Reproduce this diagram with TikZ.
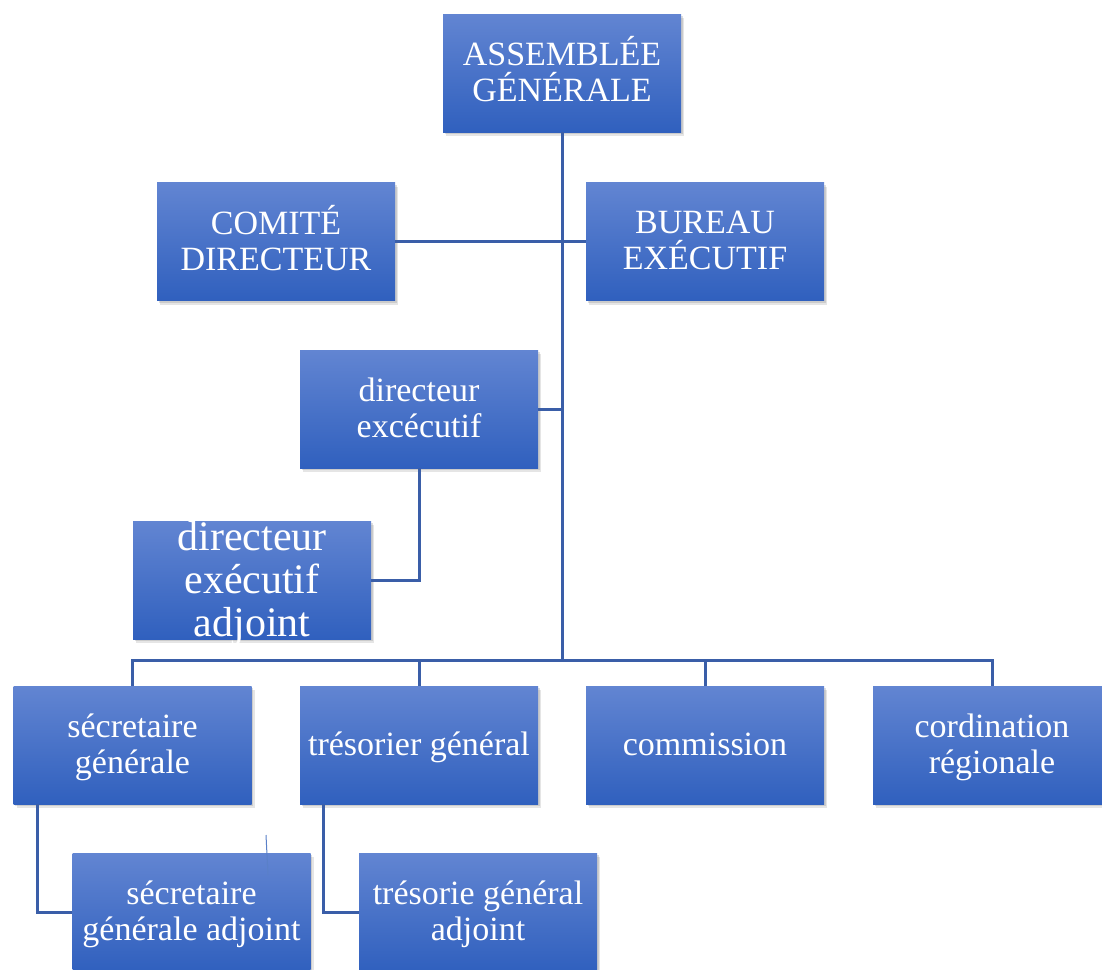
\documentclass[tikz,border=0pt]{standalone}
\usepackage{fontspec}
\setmainfont{Liberation Serif}
\usetikzlibrary{shadows}
\definecolor{boxtop}{RGB}{98,133,210}
\definecolor{boxbot}{RGB}{48,96,190}
\definecolor{linec}{RGB}{58,94,168}
\definecolor{strayc}{RGB}{90,128,200}
\newcommand{\sx}{\rule[-8pt]{0pt}{36pt}}
\newcommand{\sy}{\rule[-7.5pt]{0pt}{43pt}}
\setlength{\lineskiplimit}{-100pt}
\tikzset{
  orgbox/.style={rectangle, minimum width=238pt, minimum height=118pt, inner sep=0pt,
    top color=boxtop, bottom color=boxbot, draw=none, text=white, align=center,
    font=\fontsize{34}{36}\selectfont,
    drop shadow={shadow xshift=3pt, shadow yshift=-4pt, opacity=0.2},
    drop shadow={shadow xshift=1.5pt, shadow yshift=-2pt, opacity=0.25}},
  bigtext/.style={font=\fontsize{42}{43}\selectfont, inner ysep=-8pt},
  conn/.style={draw=linec, line width=3pt}
}
\begin{document}
\begin{tikzpicture}[x=1pt,y=-1pt]
\clip (0,0) rectangle (1102,969);
\fill[white] (0,0) rectangle (1102,969);
\coordinate (bus) at (562,660);
\node[orgbox] (AG) at (562,73) {\sx ASSEMBLÉE\\\sx GÉNÉRALE};
\node[orgbox] (CD) at (276,241.5) {\sx COMITÉ\\\sx DIRECTEUR};
\node[orgbox] (BE) at (705,241.5) {\sx BUREAU\\\sx EXÉCUTIF};
\node[orgbox] (DE) at (419,409) {\sx directeur\\\sx excécutif};
\node[orgbox,bigtext] (DEA) at (252,580) {\sy directeur\\\sy exécutif\\\sy adjoint};
\node[orgbox] (SG) at (132.5,745) {\sx sécretaire\\\sx générale};
\node[orgbox] (TG) at (419,745) {\sx trésorier général};
\node[orgbox] (CM) at (705,745) {\sx commission};
\node[orgbox] (CR) at (992,745) {\sx cordination\\\sx régionale};
\node[orgbox] (SGA) at (191.5,912) {\sx sécretaire\\\sx générale adjoint};
\node[orgbox] (TGA) at (478,912) {\sx trésorie général\\\sx adjoint};
% lines
\draw[conn] (AG.south) -- (bus);
\draw[conn] (CD.east) -- (BE.west);
\draw[conn] (DE.east) -- (DE.east -| bus);
\draw[conn] (DE.south) |- (DEA.east);
\draw[conn] (SG.north) |- (bus) -| (CR.north);
\draw[conn] (TG.north) -- (TG.north |- bus);
\draw[conn] (CM.north) -- (CM.north |- bus);
\coordinate (sgdrop) at ([xshift=24pt]SG.south west);
\coordinate (tgdrop) at ([xshift=24pt]TG.south west);
\draw[conn] (sgdrop) |- (SGA.west);
\draw[conn] (tgdrop) |- (TGA.west);
\coordinate (s1) at (266,835);
\coordinate (s2) at (268,875);
\draw[strayc, line width=1pt] (s1) -- (s2);
\end{tikzpicture}
\end{document}
